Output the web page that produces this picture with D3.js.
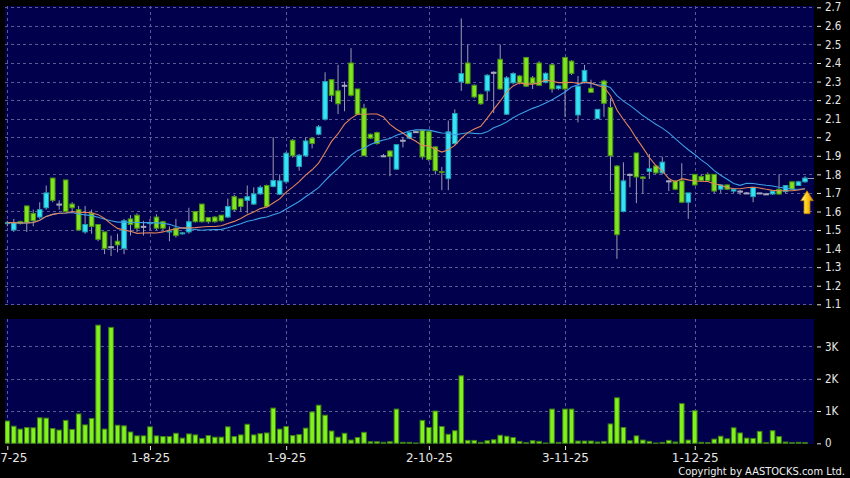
<!DOCTYPE html>
<html lang="en">

<head>
  <title></title>
  <meta charset="UTF-8">
  <style>
    body { margin: 0; background: #000; }
    svg { display: block; }
  </style>
</head>

<body>
  <div class="container"></div>
  <script src="https://cdn.jsdelivr.net/npm/d3@7"></script>
  <script>
    // daily bars, 2-7-25 .. 24-12-25
    var opens = [1.535, 1.50, 1.545, 1.63, 1.59, 1.57, 1.62, 1.78, 1.64, 1.77,
      1.64, 1.61, 1.49, 1.59, 1.53, 1.49, 1.41, 1.44, 1.40, 1.56,
      1.58, 1.52, 1.535, 1.57, 1.545, 1.49, 1.51, 1.48, 1.49, 1.60,
      1.64, 1.567, 1.57, 1.58, 1.57, 1.68, 1.668, 1.66, 1.64, 1.695,
      1.74, 1.735, 1.693, 1.76, 1.984, 1.842, 1.90, 1.995, 2.016, 2.097,
      2.31, 2.25, 2.28, 2.40, 2.26, 2.156, 2.016, 2.025, 1.90, 1.926,
      1.828, 1.984, 1.995, 2.03, 2.038, 2.03, 1.948, 1.815, 1.777, 1.966,
      2.298, 2.40, 2.28, 2.23, 2.25, 2.35, 2.42, 2.124, 2.293, 2.33,
      2.43, 2.32, 2.40, 2.296, 2.39, 2.262, 2.43, 2.41, 2.12, 2.30,
      2.264, 2.10, 2.303, 2.16, 1.845, 1.60, 1.80, 1.915, 1.786, 1.816,
      1.845, 1.808, 1.765, 1.765, 1.765, 1.65, 1.80, 1.788, 1.80, 1.80,
      1.72, 1.743, 1.71, 1.71, 1.70, 1.68, 1.70, 1.695, 1.694, 1.72,
      1.707, 1.76, 1.74, 1.76];
    var highs = [1.55, 1.56, 1.55, 1.63, 1.61, 1.65, 1.74, 1.78, 1.66, 1.77,
      1.65, 1.63, 1.63, 1.61, 1.53, 1.49, 1.47, 1.48, 1.56, 1.58,
      1.59, 1.55, 1.56, 1.585, 1.55, 1.52, 1.56, 1.49, 1.62, 1.60,
      1.64, 1.57, 1.575, 1.58, 1.67, 1.69, 1.67, 1.74, 1.73, 1.74,
      1.745, 2.00, 1.80, 1.92, 1.99, 1.91, 1.998, 2.00, 2.066, 2.35,
      2.31, 2.39, 2.30, 2.48, 2.26, 2.18, 2.02, 2.03, 1.91, 1.93,
      1.96, 2.00, 2.03, 2.035, 2.04, 2.035, 1.95, 1.84, 2.09, 2.15,
      2.64, 2.50, 2.285, 2.235, 2.34, 2.355, 2.50, 2.33, 2.35, 2.335,
      2.43, 2.33, 2.41, 2.35, 2.40, 2.28, 2.43, 2.415, 2.33, 2.39,
      2.31, 2.15, 2.31, 2.21, 1.85, 1.865, 1.805, 1.915, 1.79, 1.91,
      1.85, 1.895, 1.77, 1.77, 1.86, 1.70, 1.80, 1.80, 1.81, 1.80,
      1.745, 1.745, 1.72, 1.715, 1.705, 1.73, 1.70, 1.70, 1.712, 1.80,
      1.74, 1.76, 1.765, 1.79];
    var lows = [1.52, 1.49, 1.53, 1.49, 1.52, 1.56, 1.61, 1.65, 1.61, 1.60,
      1.60, 1.50, 1.48, 1.48, 1.44, 1.37, 1.36, 1.38, 1.37, 1.47,
      1.49, 1.47, 1.50, 1.50, 1.50, 1.44, 1.46, 1.475, 1.48, 1.54,
      1.54, 1.535, 1.54, 1.545, 1.565, 1.60, 1.60, 1.59, 1.635, 1.69,
      1.62, 1.73, 1.69, 1.75, 1.89, 1.82, 1.895, 1.94, 2.01, 2.09,
      2.19, 2.125, 2.14, 2.22, 2.12, 1.90, 1.99, 1.96, 1.895, 1.79,
      1.825, 1.945, 1.99, 2.025, 1.88, 1.87, 1.80, 1.715, 1.715, 1.96,
      2.25, 2.285, 2.21, 2.175, 2.20, 2.13, 2.255, 2.12, 2.285, 2.285,
      2.27, 2.26, 2.28, 2.29, 2.24, 2.255, 2.11, 2.335, 2.08, 2.29,
      2.24, 2.10, 2.11, 1.71, 1.345, 1.595, 1.73, 1.645, 1.695, 1.775,
      1.80, 1.80, 1.71, 1.715, 1.645, 1.56, 1.74, 1.76, 1.76, 1.70,
      1.70, 1.715, 1.70, 1.69, 1.695, 1.65, 1.695, 1.69, 1.69, 1.69,
      1.70, 1.72, 1.74, 1.755];
    var closes = [1.54, 1.54, 1.535, 1.54, 1.55, 1.61, 1.70, 1.66, 1.64, 1.60,
      1.62, 1.50, 1.53, 1.52, 1.45, 1.40, 1.41, 1.42, 1.55, 1.53,
      1.51, 1.52, 1.54, 1.51, 1.51, 1.495, 1.47, 1.485, 1.545, 1.545,
      1.545, 1.545, 1.545, 1.55, 1.627, 1.61, 1.627, 1.68, 1.695, 1.73,
      1.627, 1.767, 1.765, 1.914, 1.90, 1.903, 1.98, 1.966, 2.056, 2.30,
      2.226, 2.18, 2.28, 2.226, 2.124, 1.90, 1.995, 1.966, 1.90, 1.896,
      1.96, 1.984, 2.025, 2.03, 1.894, 1.88, 1.82, 1.81, 2.029, 2.128,
      2.343, 2.29, 2.217, 2.18, 2.334, 2.35, 2.26, 2.32, 2.343, 2.293,
      2.275, 2.29, 2.28, 2.344, 2.26, 2.276, 2.26, 2.344, 2.275, 2.36,
      2.242, 2.15, 2.183, 1.90, 1.475, 1.765, 1.80, 1.786, 1.778, 1.83,
      1.808, 1.866, 1.765, 1.72, 1.65, 1.70, 1.743, 1.766, 1.766, 1.71,
      1.743, 1.72, 1.72, 1.71, 1.70, 1.73, 1.70, 1.695, 1.71, 1.694,
      1.74, 1.72, 1.76, 1.78];
    // volume in thousands
    var volumes = [0.69, 0.53, 0.44, 0.49, 0.48, 0.79, 0.78, 0.46, 0.41, 0.71,
      0.43, 0.91, 0.57, 0.77, 3.66, 0.44, 3.59, 0.56, 0.54, 0.35,
      0.23, 0.23, 0.51, 0.23, 0.21, 0.21, 0.31, 0.16, 0.29, 0.26,
      0.15, 0.24, 0.19, 0.19, 0.51, 0.21, 0.26, 0.59, 0.26, 0.30,
      0.32, 1.09, 0.44, 0.52, 0.24, 0.27, 0.47, 0.97, 1.18, 0.87,
      0.38, 0.19, 0.31, 0.10, 0.18, 0.34, 0.05, 0.05, 0.03, 0.05,
      1.06, 0.03, 0.03, 0.01, 0.71, 0.49, 1.00, 0.52, 0.28, 0.39,
      2.09, 0.09, 0.09, 0.03, 0.08, 0.11, 0.25, 0.22, 0.18, 0.06,
      0.02, 0.08, 0.06, 0.01, 1.06, 0.03, 1.06, 1.06, 0.07, 0.07,
      0.07, 0.04, 0.06, 0.60, 1.41, 0.49, 0.08, 0.23, 0.10, 0.06,
      0.01, 0.03, 0.09, 0.04, 1.23, 0.10, 1.01, 0.03, 0.02, 0.13,
      0.22, 0.14, 0.48, 0.32, 0.16, 0.15, 0.37, 0.02, 0.39, 0.21,
      0.04, 0.02, 0.03, 0.02];
    var dateLabels = ["2-7-25", "1-8-25", "1-9-25", "2-10-25", "3-11-25", "1-12-25"];
    var dateIdx = [0, 22, 43, 65, 86, 106];
    var priceTicks = d3.range(11, 28).map(function (d) { return d / 10; });
    var volTicks = [0, 1, 2, 3];
    var maShort = 10, maLong = 20;

    var W = 850, H = 478;
    var L = 5, R = 814;
    var pTop = 6, pBot = 305, vTop = 319, vBot = 444;
    var n = closes.length;

    var bars = closes.map(function (c, i) {
      return { i: i, o: opens[i], h: highs[i], l: lows[i], c: c, v: volumes[i] };
    });

    function sma(k) {
      return closes.map(function (c, i) {
        var s = closes.slice(Math.max(0, i - k + 1), i + 1);
        return d3.mean(s);
      });
    }

    var x = d3.scaleLinear().domain([0, n - 1]).range([7.3, 805]);
    var yP = d3.scaleLinear().domain([1.1, 2.7]).range([304.3, 7.3]);
    var yV = d3.scaleLinear().domain([0, 3.85]).range([443.3, 319]);

    var svg = d3.select('.container').append('svg')
      .attr('width', W).attr('height', H)
      .style('background', '#000');

    var defs = svg.append('defs');
    defs.append('clipPath').attr('id', 'clipP').append('rect')
      .attr('x', L).attr('y', pTop).attr('width', R - L).attr('height', pBot - pTop);
    defs.append('clipPath').attr('id', 'clipV').append('rect')
      .attr('x', L).attr('y', vTop).attr('width', R - L).attr('height', vBot - vTop);
    var grad = defs.append('linearGradient').attr('id', 'arrowGrad')
      .attr('x1', 0).attr('x2', 1).attr('y1', 0).attr('y2', 0);
    grad.append('stop').attr('offset', '0%').attr('stop-color', '#fff2a0');
    grad.append('stop').attr('offset', '45%').attr('stop-color', '#ffd21c');
    grad.append('stop').attr('offset', '100%').attr('stop-color', '#d98a00');

    // panels
    svg.append('rect').attr('x', L).attr('y', pTop).attr('width', R - L).attr('height', pBot - pTop)
      .attr('fill', '#00004d');
    svg.append('rect').attr('x', L).attr('y', vTop).attr('width', R - L).attr('height', vBot - vTop)
      .attr('fill', '#00004d');

    var gridColor = '#5a5a96';
    // horizontal grid
    svg.append('g').selectAll('line').data(priceTicks).join('line')
      .attr('x1', L).attr('x2', R)
      .attr('y1', function (d) { return Math.round(yP(d)) + 0.5; })
      .attr('y2', function (d) { return Math.round(yP(d)) + 0.5; })
      .attr('stroke', gridColor).attr('stroke-dasharray', '3,3');
    svg.append('g').selectAll('line').data(volTicks.slice(1)).join('line')
      .attr('x1', L).attr('x2', R)
      .attr('y1', function (d) { return Math.round(yV(d)) + 0.5; })
      .attr('y2', function (d) { return Math.round(yV(d)) + 0.5; })
      .attr('stroke', gridColor).attr('stroke-dasharray', '3,3');
    // vertical grid
    [[pTop, pBot], [vTop, vBot]].forEach(function (r) {
      svg.append('g').selectAll('line').data(dateIdx).join('line')
        .attr('x1', function (d) { return Math.round(x(d)) + 0.5; })
        .attr('x2', function (d) { return Math.round(x(d)) + 0.5; })
        .attr('y1', r[0]).attr('y2', r[1])
        .attr('stroke', gridColor).attr('stroke-dasharray', '3,3');
    });

    // candles
    var up = { fill: '#35e4f4', stroke: '#1f9fb4' };
    var dn = { fill: '#80e41e', stroke: '#4a9414' };
    var bw = 4.6;
    var gc = svg.append('g').attr('clip-path', 'url(#clipP)');
    gc.selectAll('line.wick').data(bars).join('line').attr('class', 'wick')
      .attr('x1', function (d) { return x(d.i); }).attr('x2', function (d) { return x(d.i); })
      .attr('y1', function (d) { return yP(d.h); }).attr('y2', function (d) { return yP(d.l); })
      .attr('stroke', '#9c9cb0').attr('stroke-width', 1);
    gc.selectAll('rect.body').data(bars).join('rect').attr('class', 'body')
      .attr('x', function (d) { return x(d.i) - bw / 2; })
      .attr('width', bw)
      .attr('y', function (d) { return yP(Math.max(d.o, d.c)); })
      .attr('height', function (d) { return Math.max(1, yP(Math.min(d.o, d.c)) - yP(Math.max(d.o, d.c))); })
      .attr('fill', function (d) {
        if (Math.abs(d.o - d.c) < 0.003) return '#a8a8bc';
        return d.c >= d.o ? up.fill : dn.fill;
      })
      .attr('stroke', function (d) {
        if (Math.abs(d.o - d.c) < 0.003) return '#a8a8bc';
        return d.c >= d.o ? up.stroke : dn.stroke;
      })
      .attr('stroke-width', 1);

    // moving averages
    var line = d3.line().x(function (d, i) { return x(i); }).y(function (d) { return yP(d); });
    gc.append('path').datum(sma(maLong)).attr('d', line)
      .attr('fill', 'none').attr('stroke', '#3d9fe6').attr('stroke-width', 1.1);
    gc.append('path').datum(sma(maShort)).attr('d', line)
      .attr('fill', 'none').attr('stroke', '#e3845a').attr('stroke-width', 1.1);

    // last price marker and arrow
    var last = bars[n - 1];
    svg.append('line')
      .attr('x1', x(n - 1) + 3).attr('x2', R)
      .attr('y1', Math.round(yP(last.c)) + 0.5).attr('y2', Math.round(yP(last.c)) + 0.5)
      .attr('stroke', '#9c9cb0');
    var ax = x(n - 1) + 2, at = yP(last.l) + 8;
    svg.append('path')
      .attr('d', 'M' + ax + ',' + at + 'L' + (ax + 6.3) + ',' + (at + 10) + 'L' + (ax + 3) + ',' + (at + 10) +
        'L' + (ax + 3) + ',' + (at + 23) + 'L' + (ax - 3) + ',' + (at + 23) + 'L' + (ax - 3) + ',' + (at + 10) +
        'L' + (ax - 6.3) + ',' + (at + 10) + 'Z')
      .attr('fill', 'url(#arrowGrad)').attr('stroke', '#b87400').attr('stroke-width', 0.8);

    // volume
    var gv = svg.append('g').attr('clip-path', 'url(#clipV)');
    gv.selectAll('rect').data(bars).join('rect')
      .attr('x', function (d) { return x(d.i) - bw / 2; })
      .attr('width', bw)
      .attr('y', function (d) { return yV(d.v); })
      .attr('height', function (d) { return yV(0) - yV(d.v); })
      .attr('fill', '#82f21e').attr('stroke', '#3f7f12').attr('stroke-width', 1);

    // axes
    var txt = '#e6e6e6';
    var fmt = d3.format('.1~f');
    var ay = svg.append('g').attr('transform', 'translate(817,0)')
      .call(d3.axisRight(yP).tickValues(priceTicks).tickSize(4).tickPadding(4).tickFormat(fmt));
    var av = svg.append('g').attr('transform', 'translate(817,0)')
      .call(d3.axisRight(yV).tickValues(volTicks).tickSize(4).tickPadding(4)
        .tickFormat(function (d) { return d === 0 ? '0' : d + 'K'; }));
    [ay, av].forEach(function (g) {
      g.select('.domain').remove();
      g.selectAll('line').attr('stroke', txt);
      g.selectAll('text').attr('fill', txt)
        .style('font-family', '"DejaVu Sans Condensed", "DejaVu Sans", sans-serif')
        .style('font-stretch', 'condensed')
        .style('font-size', '11.5px');
    });

    var axb = svg.append('g').attr('transform', 'translate(0,446)')
      .call(d3.axisBottom(x).tickValues(dateIdx).tickSize(4).tickPadding(3)
        .tickFormat(function (d, i) { return dateLabels[i]; }));
    axb.select('.domain').remove();
    axb.selectAll('line').attr('stroke', txt);
    axb.selectAll('text').attr('fill', txt)
      .style('font-family', '"DejaVu Sans", sans-serif').style('font-size', '12px');

    svg.append('text')
      .attr('x', 845).attr('y', 475)
      .attr('text-anchor', 'end')
      .attr('fill', '#f0f0f0')
      .style('font-family', '"DejaVu Sans Condensed", "DejaVu Sans", sans-serif')
      .style('font-stretch', 'condensed')
      .style('font-size', '11px')
      .text('Copyright by AASTOCKS.com Ltd.');
  </script>
</body>

</html>
